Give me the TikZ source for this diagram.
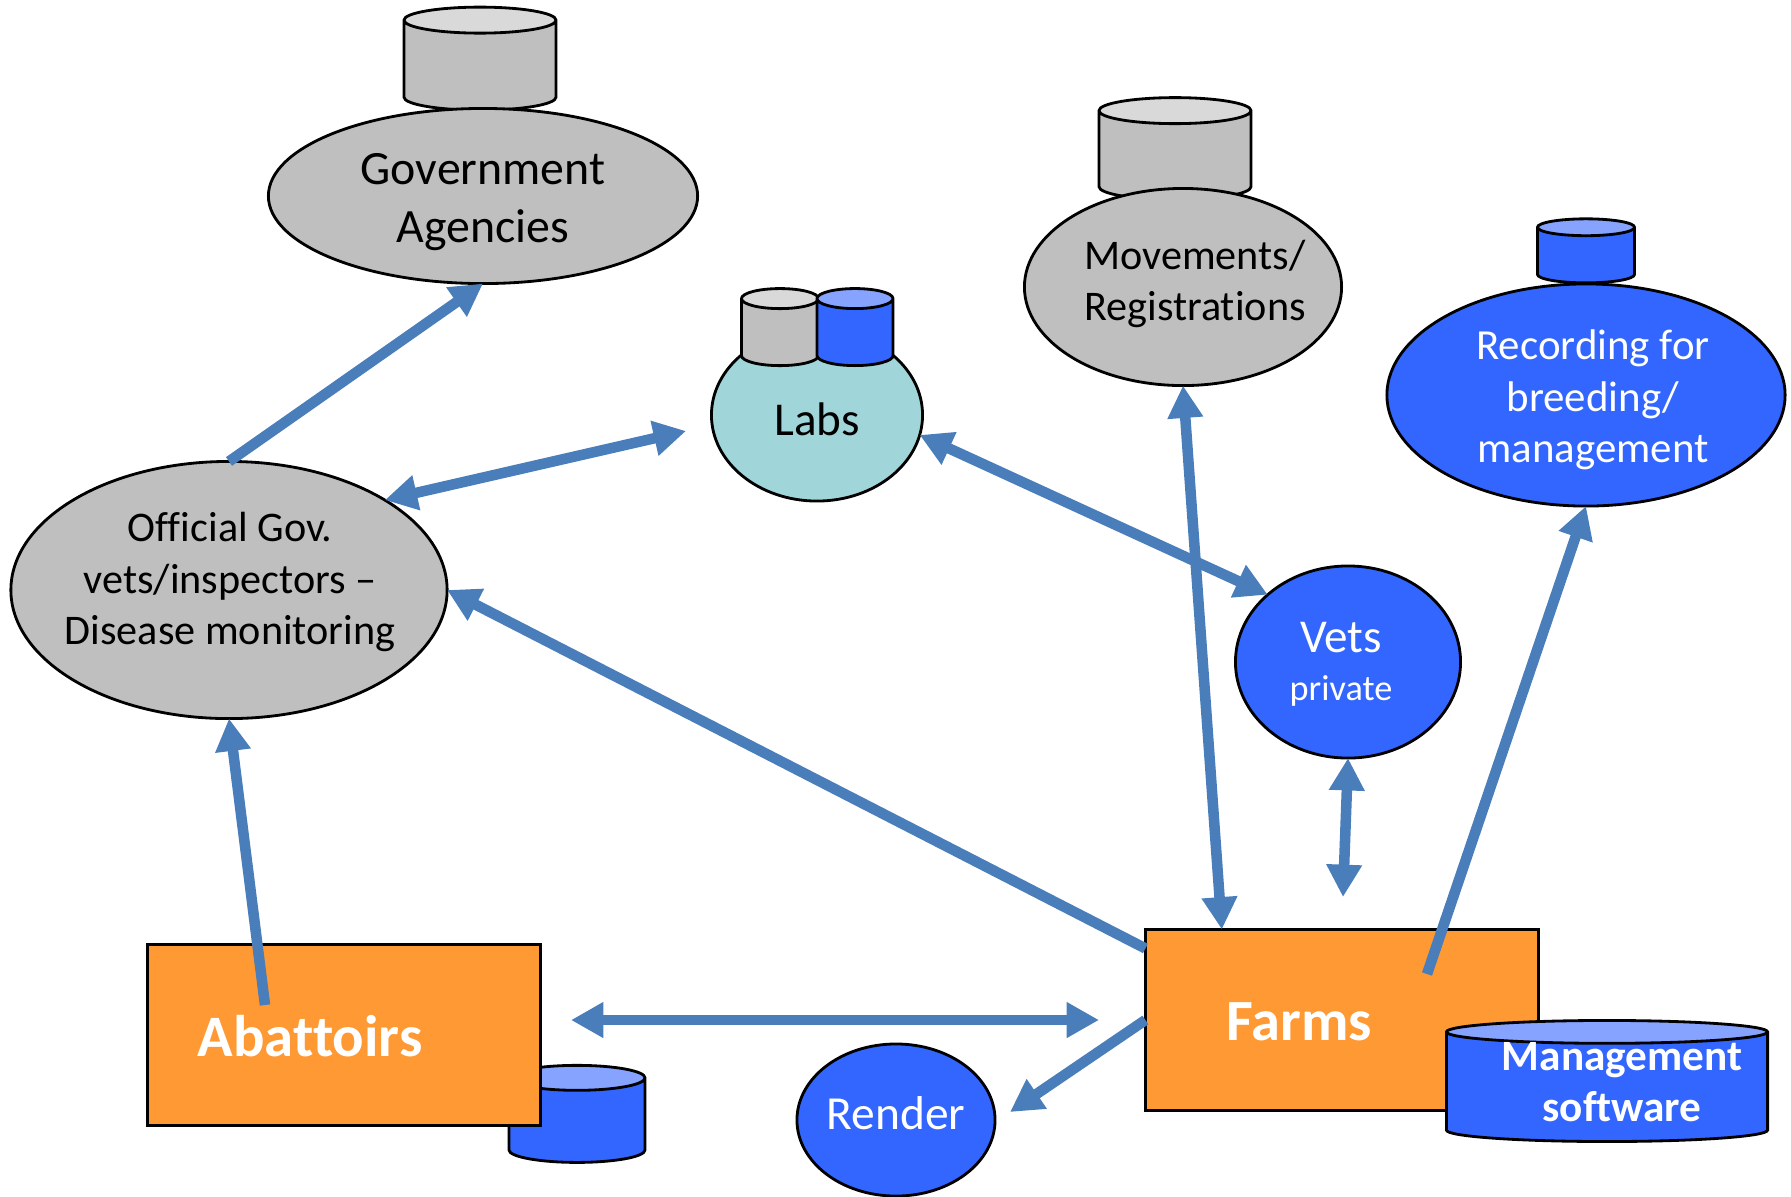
\documentclass[tikz,border=0pt]{standalone}
\usepackage{fontspec}
\setmainfont{Carlito}[Ligatures={NoCommon}]
\usetikzlibrary{shapes.geometric}
\usetikzlibrary{arrows.meta}

\definecolor{shapegray}{HTML}{BFBFBF}
\definecolor{lidgray}{HTML}{D9D9D9}
\definecolor{shapeblue}{HTML}{3366FF}
\definecolor{lidblue}{HTML}{85A3FF}
\definecolor{boxorange}{HTML}{FF9933}
\definecolor{labteal}{HTML}{A0D5D9}
\definecolor{linkblue}{HTML}{4A7EBB}

\tikzset{
    outlined/.style={draw=black, line width=0.8pt, inner sep=0pt, outer sep=0pt},
    agency/.style={outlined, ellipse, fill=shapegray},
    private/.style={outlined, ellipse, fill=shapeblue},
    site/.style={outlined, rectangle, fill=boxorange},
    store/.style={outlined, inner sep=5pt, cylinder, shape border rotate=90, cylinder uses custom fill},
    graystore/.style={store, cylinder body fill=shapegray, cylinder end fill=lidgray},
    bluestore/.style={store, cylinder body fill=shapeblue, cylinder end fill=lidblue},
    dark/.style={align=center, text=black},
    light/.style={align=center, text=white},
    oneway/.style={line width=3pt, color=linkblue, -{Triangle[length=9.2pt, width=9.6pt]}},
    twoway/.style={line width=3pt, color=linkblue, {Triangle[length=9.2pt, width=9.6pt]}-{Triangle[length=9.2pt, width=9.6pt]}}
}

\begin{document}
\begin{tikzpicture}[x=0.01cm, y=-0.01cm]
        \useasboundingbox (0,0) rectangle (1791,1196);

        \node [graystore, minimum width=1.52cm, minimum height=1.03cm, aspect=0.74] (govstore) at (480,70) {};
        \node [graystore, minimum width=1.52cm, minimum height=1.02cm, aspect=0.74] (movestore) at (1175,160) {};
        \node [bluestore, minimum width=0.97cm, minimum height=0.64cm, aspect=0.48] (recstore) at (1586,259) {};
        \node [bluestore, minimum width=1.36cm, minimum height=0.97cm, aspect=0.71] (abatstore) at (577,1125) {};

        \node [agency, minimum width=4.29cm, minimum height=1.75cm] (gov) at (483,196) {};
        \node [agency, minimum width=3.17cm, minimum height=1.97cm] (moves) at (1183,287) {};
        \node [private, minimum width=3.98cm, minimum height=2.22cm] (recording) at (1586,395) {};
        \node [outlined, ellipse, fill=labteal, minimum width=2.11cm, minimum height=1.72cm] (labs) at (817,415) {};
        \node [agency, minimum width=4.36cm, minimum height=2.57cm] (official) at (229,590) {};
        \node [private, minimum width=2.25cm, minimum height=1.92cm] (vets) at (1348,662) {};
        \node [private, minimum width=1.98cm, minimum height=1.52cm] (render) at (896,1120) {};

        \node [graystore, minimum width=0.77cm, minimum height=0.77cm, aspect=0.57] (labgray) at (780,337) {};
        \node [bluestore, minimum width=0.76cm, minimum height=0.77cm, aspect=0.57] (labblue) at (855,337) {};

        \node [site, minimum width=3.93cm, minimum height=1.81cm] (abattoirs) at (344,1035) {};
        \node [site, minimum width=3.93cm, minimum height=1.81cm] (farms) at (1342,1020) {};
        \node [bluestore, minimum width=3.21cm, minimum height=1.21cm, aspect=0.65] (software) at (1607,1090) {};

        \node [dark, font=\fontsize{13.6}{16.5}\selectfont] (govtext) at (483,202) {Government\\Agencies};
        \node [dark, font=\fontsize{12}{14.6}\selectfont] (officialtext) at (230,582) {Official Gov.\\vets/inspectors --\\Disease monitoring};
        \node [dark, font=\fontsize{12}{14.6}\selectfont] (movestext) at (1195,284) {Movements/\\Registrations};
        \node [dark, font=\fontsize{13.4}{16}\selectfont] (labstext) at (817,419) {Labs};
        \node [light, font=\fontsize{12.2}{14.7}\selectfont] (rectext) at (1593,400) {Recording for\\breeding/\\management};
        \node [light, font=\fontsize{13.4}{13.7}\selectfont] (vetstext) at (1341,664) {Vets\\{\fontsize{10.3}{13.7}\selectfont private}};
        \node [light, font=\fontsize{13.5}{16}\selectfont] (rendertext) at (896,1113) {Render};
        \node [light, font=\fontsize{16.7}{18}\selectfont\bfseries] (abattext) at (310,1036) {Abattoirs};
        \node [light, font=\fontsize{16.6}{18}\selectfont\bfseries] (farmstext) at (1299,1022) {Farms};
        \node [light, font=\fontsize{12.3}{14.6}\selectfont\bfseries] (softtext) at (1622,1082) {Management\\software};

        \coordinate (labsleft) at (686,431);
        \coordinate (abatright) at (571,1020);
        \coordinate (farmsleft) at (1099,1020);
        \coordinate (renderright) at (1010,1112);
        \coordinate (farmsabove) at (1343,897);
        \coordinate (abatinside) at (265,1005);
        \coordinate (farmsinside) at (1427,974);

        \draw [oneway] (official.north) -- (gov.south);
        \draw [twoway] (official.30) -- (labsleft);
        \draw [twoway] (labs.-11) -- (vets.140);
        \draw [twoway] (moves.south) -- (farms.143);
        \draw [oneway] (farms.160) -- (official.east);
        \draw [oneway] (farms.west) -- (renderright);
        \draw [twoway] (abatright) -- (farmsleft);
        \draw [twoway] (vets.south) -- (farmsabove);
        \draw [oneway] (abatinside) -- (official.south);
        \draw [oneway] (farmsinside) -- (recording.south);
    \end{tikzpicture}
\end{document}
